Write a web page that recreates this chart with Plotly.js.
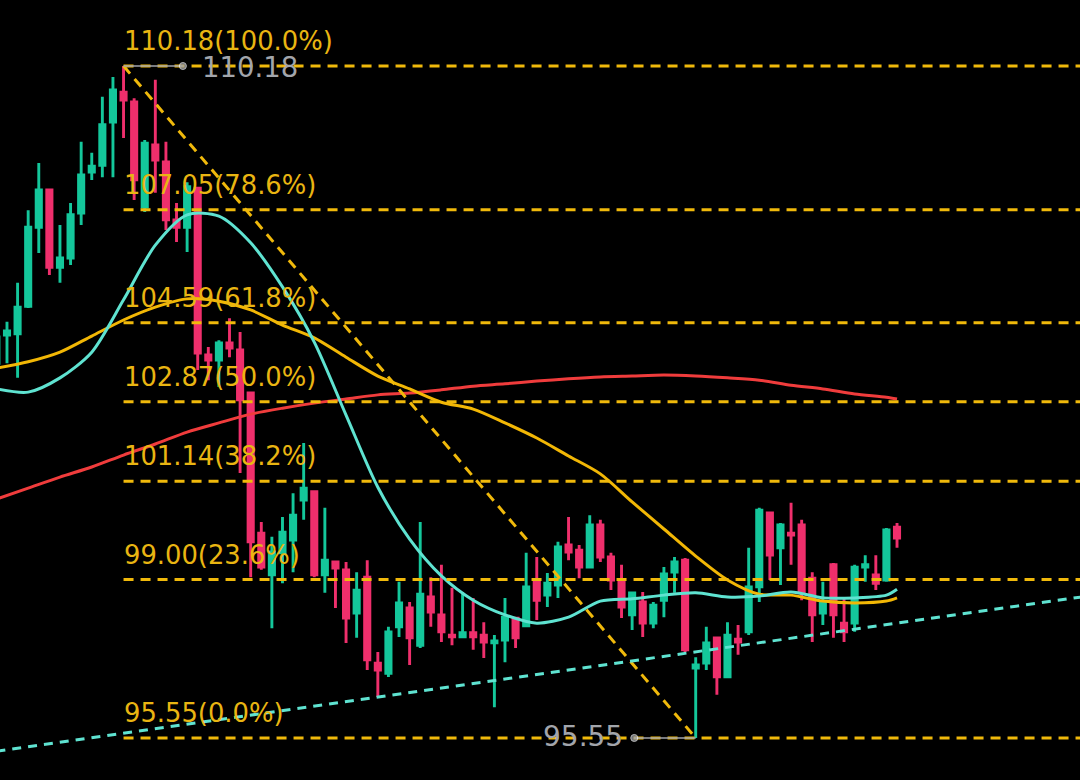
<!DOCTYPE html>
<html>
<head>
<meta charset="utf-8">
<script src="https://cdn.plot.ly/plotly-3.0.1.min.js"></script>
<style>
  html, body { margin: 0; padding: 0; background: #000; }
  #chart { width: 1080px; height: 780px; }
</style>
</head>
<body>
<div id="chart"></div>
<script>
// ─── Candles (one per bar, oldest first) ──────────────────────────
const open = [
  103.71, 104.32, 104.35, 104.95, 106.67, 107.48, 105.80, 106.00, 106.98, 107.87,
  108.02, 108.96, 109.61, 109.40, 107.11, 108.46, 108.09, 106.83, 106.67, 107.52,
  103.89, 103.78, 104.15, 104.00, 103.06, 100.01, 99.10, 99.58, 99.86, 100.73,
  100.91, 99.10, 99.38, 99.21, 98.27, 99.05, 97.18, 96.96, 97.97, 98.38,
  97.57, 98.62, 98.23, 97.79, 97.75, 97.84, 97.79, 97.62, 97.68, 98.16,
  97.99, 98.95, 98.66, 98.88, 99.75, 99.64, 99.27, 100.19, 99.49, 98.99,
  98.23, 98.51, 98.05, 98.55, 99.16, 99.42, 97.07, 97.18, 97.73, 96.88,
  97.70, 97.86, 98.84, 100.45, 99.69, 100.01, 100.19, 99.03, 98.27, 99.32,
  98.05, 98.05, 99.27, 99.10, 98.99, 100.14
];
const high = [
  104.32, 104.61, 105.46, 107.04, 108.07, 107.50, 106.72, 107.20, 108.53, 108.29,
  109.51, 109.94, 110.18, 109.48, 108.57, 109.88, 108.53, 107.20, 107.65, 107.55,
  104.06, 104.21, 104.69, 104.39, 103.08, 100.25, 99.93, 100.36, 100.88, 101.97,
  100.93, 100.56, 99.40, 99.38, 99.16, 99.42, 97.42, 97.97, 98.95, 98.51,
  100.25, 99.05, 99.32, 98.82, 98.73, 98.60, 98.07, 97.79, 98.60, 98.18,
  99.58, 99.49, 99.14, 99.82, 100.36, 99.75, 100.40, 100.30, 99.58, 99.32,
  98.73, 98.73, 98.51, 99.27, 99.49, 99.47, 97.31, 97.97, 97.75, 98.07,
  98.01, 99.69, 100.56, 100.47, 100.23, 100.67, 100.30, 99.16, 98.95, 99.36,
  98.62, 99.32, 99.53, 99.53, 100.12, 100.23
];
const low = [
  103.65, 103.71, 103.39, 104.91, 106.11, 105.63, 105.46, 105.85, 106.72, 107.70,
  107.76, 107.76, 108.61, 107.26, 107.00, 107.42, 106.61, 106.35, 106.13, 103.56,
  103.34, 103.19, 103.84, 101.32, 99.05, 99.21, 97.94, 98.92, 99.16, 100.30,
  99.05, 98.71, 98.38, 97.62, 97.73, 97.03, 96.44, 96.88, 97.75, 97.14,
  97.51, 97.97, 97.64, 97.57, 97.73, 97.47, 97.29, 96.22, 97.20, 97.51,
  97.97, 98.12, 98.40, 98.60, 99.42, 99.03, 99.25, 99.38, 98.77, 98.16,
  97.90, 97.75, 97.94, 98.18, 98.71, 97.42, 95.55, 97.03, 96.49, 96.86,
  97.36, 97.79, 98.51, 98.99, 98.88, 99.32, 98.55, 97.64, 98.01, 97.73,
  97.64, 97.86, 98.95, 98.77, 98.95, 99.69
];
const close = [
  104.28, 104.41, 104.93, 106.67, 107.48, 105.80, 106.00, 106.94, 107.81, 108.00,
  108.90, 109.66, 109.44, 107.70, 108.50, 108.13, 106.83, 106.67, 107.55, 103.93,
  103.78, 104.15, 104.04, 102.91, 99.82, 99.27, 99.60, 100.03, 100.40, 100.99,
  99.10, 99.42, 99.25, 98.16, 98.77, 97.25, 97.03, 97.86, 98.49, 97.73,
  98.68, 98.29, 97.86, 97.75, 97.84, 97.75, 97.64, 97.66, 98.18, 97.73,
  98.84, 98.55, 98.92, 99.71, 99.60, 99.27, 100.19, 99.49, 98.99, 98.40,
  98.71, 98.05, 98.44, 99.12, 99.38, 97.47, 97.14, 97.62, 96.88, 97.79,
  97.64, 98.84, 100.51, 99.53, 100.19, 99.97, 98.71, 98.23, 98.51, 98.23,
  97.86, 99.27, 99.32, 98.92, 100.08, 99.90
];
const bars = open.map((_, i) => i);

// ─── Moving averages, read every 3rd bar ───────────────────────────
const maIdx = [0, 3, 6, 9, 12, 15, 18, 21, 24, 27, 30, 33, 36, 39, 42,
               45, 48, 51, 54, 57, 60, 63, 66, 69, 72, 75, 78, 81, 84, 85];
const maFast = [
  103.15, 103.08, 103.39, 103.95, 105.09, 106.28, 106.94, 106.91, 106.33, 105.37,
  104.17, 102.58, 101.01, 99.88, 99.08, 98.55, 98.23, 98.05, 98.18, 98.53,
  98.58, 98.66, 98.71, 98.62, 98.64, 98.73, 98.60, 98.60, 98.66, 98.79
];
const maMid = [
  103.60, 103.74, 103.95, 104.30, 104.65, 104.93, 105.11, 105.06, 104.87, 104.54,
  104.26, 103.84, 103.43, 103.15, 102.86, 102.71, 102.41, 102.08, 101.69, 101.30,
  100.69, 100.10, 99.51, 98.99, 98.68, 98.66, 98.53, 98.49, 98.53, 98.60
];
const maSlow = [
  100.75, 100.99, 101.23, 101.45, 101.71, 101.95, 102.21, 102.41, 102.60, 102.73,
  102.84, 102.93, 103.02, 103.06, 103.13, 103.21, 103.26, 103.32, 103.37, 103.41,
  103.43, 103.45, 103.43, 103.39, 103.34, 103.23, 103.15, 103.04, 102.97, 102.93
];

// ─── Fibonacci retracement (high bar 12 → low bar 66) ─────────────
const fibLevels = [110.18, 107.05, 104.59, 102.87, 101.14, 99.00, 95.55];
const fibPct    = ['100.0%', '78.6%', '61.8%', '50.0%', '38.2%', '23.6%', '0.0%'];
const swingIdx  = [12, 66];
const swingPx   = [110.18, 95.55];

// rising support line drawn under the lows
const trendX = [0, 103];
const trendY = [95.26, 98.64];

const C = {
  up:    '#14c79b',
  down:  '#ef2f6c',
  fib:   '#f0b90b',
  fibTx: '#e9b512',
  cyan:  '#5fe3d1',
  mid:   '#f2b705',
  slow:  '#f03c3c',
  gray:  '#a2a5ab'
};

const X_RANGE = [0.34, 102.27];
const Y_RANGE = [94.635, 111.617];

// ─── Traces ────────────────────────────────────────────────────────
const data = [];

data.push({
  type: 'candlestick', x: bars, open, high, low, close,
  increasing: { line: { color: C.up, width: 2.9 }, fillcolor: C.up },
  decreasing: { line: { color: C.down, width: 2.9 }, fillcolor: C.down },
  whiskerwidth: 0, hoverinfo: 'skip', showlegend: false
});

const maLine = (y, color) => ({
  type: 'scatter', mode: 'lines', x: maIdx, y,
  line: { color, width: 3, shape: 'spline', smoothing: 0.8 },
  hoverinfo: 'skip', showlegend: false
});
data.push(maLine(maSlow, C.slow));
data.push(maLine(maMid, C.mid));
data.push(maLine(maFast, C.cyan));

const fibDash = { color: C.fib, width: 3, dash: '10px,7px' };
fibLevels.forEach(lv => data.push({
  type: 'scatter', mode: 'lines', x: [swingIdx[0], X_RANGE[1] + 1], y: [lv, lv],
  line: fibDash, hoverinfo: 'skip', showlegend: false
}));

data.push({
  type: 'scatter', mode: 'lines', x: swingIdx, y: swingPx,
  line: fibDash, hoverinfo: 'skip', showlegend: false
});

data.push({
  type: 'scatter', mode: 'lines', x: trendX, y: trendY,
  line: { color: C.cyan, width: 3, dash: '9px,7px' },
  hoverinfo: 'skip', showlegend: false
});

// price tags for the swing high / low
data.push({
  type: 'scatter', mode: 'lines+markers', x: [swingIdx[0], 17.6], y: [swingPx[0], swingPx[0]],
  line: { color: C.gray, width: 1.4 }, marker: { color: C.gray, size: [0, 7] },
  hoverinfo: 'skip', showlegend: false
});
data.push({
  type: 'scatter', mode: 'lines+markers', x: [60.2, swingIdx[1]], y: [swingPx[1], swingPx[1]],
  line: { color: C.gray, width: 1.4 }, marker: { color: C.gray, size: [7, 0] },
  hoverinfo: 'skip', showlegend: false
});

// ─── Labels ────────────────────────────────────────────────────────
const annotations = fibLevels.map((lv, i) => ({
  x: swingIdx[0], y: lv, xref: 'x', yref: 'y',
  xanchor: 'left', yanchor: 'bottom', yshift: 8, xshift: -2,
  showarrow: false,
  text: `${lv.toFixed(2)}(${fibPct[i]})`,
  font: { family: 'DejaVu Sans', size: 25.8, color: C.fibTx }
}));
annotations.push({
  x: 19.2, y: swingPx[0], xref: 'x', yref: 'y', xanchor: 'left', yanchor: 'middle',
  showarrow: false, text: swingPx[0].toFixed(2), yshift: -1,
  font: { family: 'DejaVu Sans', size: 27.5, color: C.gray }
});
annotations.push({
  x: 59.3, y: swingPx[1], xref: 'x', yref: 'y', xanchor: 'right', yanchor: 'middle',
  showarrow: false, text: swingPx[1].toFixed(2), yshift: 1,
  font: { family: 'DejaVu Sans', size: 28, color: C.gray }
});

const hidden = { visible: false, showgrid: false, zeroline: false, fixedrange: true };

const layout = {
  width: 1080, height: 780,
  margin: { l: 0, r: 0, t: 0, b: 0 },
  paper_bgcolor: '#000', plot_bgcolor: '#000',
  showlegend: false,
  boxgap: 0.3,
  xaxis: Object.assign({ range: X_RANGE, rangeslider: { visible: false } }, hidden),
  yaxis: Object.assign({ range: Y_RANGE }, hidden),
  annotations
};

Plotly.newPlot('chart', data, layout, { displayModeBar: false, staticPlot: true });
</script>
</body>
</html>
